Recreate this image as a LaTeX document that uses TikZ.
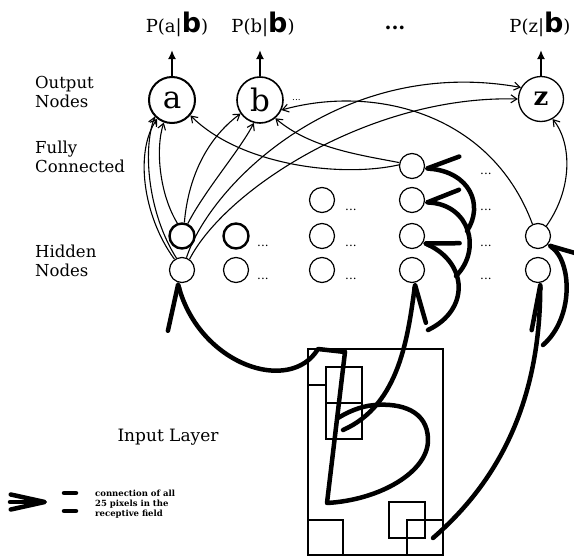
\documentclass[tikz,border=0pt]{standalone}
\usepackage{fontspec}
\setmainfont{DejaVu Serif}
\newfontfamily\bsans{DejaVu Sans}
\usetikzlibrary{arrows.meta}
\newcommand{\bigb}{{\bsans\bfseries\fontsize{27}{27}\selectfont b}}
\begin{document}
\begin{tikzpicture}[x=1pt,y=-1pt,
  every node/.style={inner sep=0pt},
  outnode/.style={circle,draw,minimum size=46pt,line width=1.6pt,font=\fontsize{31}{31}\selectfont},
  hid/.style={circle,draw,minimum size=25pt,line width=1.2pt},
  hidthick/.style={hid,line width=2.4pt},
  lbl/.style={align=left,anchor=west,font=\fontsize{16.5}{19.5}\selectfont},
  plbl/.style={anchor=base,font=\fontsize{18}{18}\selectfont},
  dotsl/.style={anchor=base west,font=\fontsize{12}{12}\selectfont},
  conn/.style={line width=1.1pt,-{Straight Barb[length=6pt,width=8pt]}},
  outarr/.style={line width=2.6pt,-{Latex[length=9pt,width=8pt]}},
  stroke/.style={line width=4.5pt,line cap=round,line join=round},
  fatL/.style 2 args={stroke,-{Straight Barb[left,length=#1,width=#2,round]}},
  fatR/.style 2 args={stroke,-{Straight Barb[right,length=#1,width=#2,round]}},
  box/.style={line width=1.3pt}
]
\useasboundingbox (0,0) rectangle (574,557);

% output nodes
\node[outnode,line width=2pt] (a) at (172,100) {a};
\node[outnode] (b) at (260,100) {b};
\node[outnode,minimum size=45pt,line width=1.3pt,font=\bfseries\fontsize{26}{26}\selectfont] (z) at (541,99) {z};
\node[font=\fontsize{9}{9}\selectfont,anchor=base west] (bdots) at (292,100) {...};

\coordinate (pa) at (172,50);
\coordinate (pb) at (260,50);
\coordinate (pz) at (541,50);
\draw[outarr] (a.north) -- (pa);
\draw[outarr] (b.north) -- (pb);
\draw[outarr] (z.north) -- (pz);

\node[plbl] (pla) at (177,32) {P(a|\bigb)};
\node[plbl] (plb) at (263,32) {P(b|\bigb)};
\node[anchor=base,font=\bfseries\fontsize{20}{20}\selectfont] (topdots) at (395,29) {...};
\node[plbl] (plz) at (540,32) {P(z|\bigb)};

% left labels
\node[lbl] (lout) at (35,92) {Output\\Nodes};
\node[lbl] (lfc) at (35,157) {Fully\\Connected};
\node[lbl] (lhid) at (35,261) {Hidden\\Nodes};
\node[font=\fontsize{17}{17}\selectfont] (linput) at (168,437) {Input Layer};

% hidden nodes
\node[hidthick] (h11) at (182,236) {};
\node[hid] (h12) at (182,270) {};
\node[hidthick] (h21) at (236,236) {};
\node[hid] (h22) at (236,270) {};
\node[hid] (h30) at (322,200) {};
\node[hid] (h31) at (322,236) {};
\node[hid] (h32) at (322,270) {};
\node[hid] (h4a) at (412,166) {};
\node[hid] (h40) at (412,200) {};
\node[hid] (h41) at (412,236) {};
\node[hid] (h42) at (412,270) {};
\node[hid] (h51) at (538,236) {};
\node[hid] (h52) at (538,270) {};

\node[dotsl] (d21) at (257,246) {...};
\node[dotsl] (d22) at (257,279) {...};
\node[dotsl] (d30) at (345,210) {...};
\node[dotsl] (d31) at (345,246) {...};
\node[dotsl] (d32) at (345,279) {...};
\node[dotsl] (d4a) at (480,174) {...};
\node[dotsl] (d40) at (480,210) {...};
\node[dotsl] (d41) at (480,246) {...};
\node[dotsl] (d42) at (480,279) {...};

% fully connected (thin)
\draw[conn] (h12.125) .. controls (142,215) and (135,150) .. (a.232);
\draw[conn] (h12.115) .. controls (149,215) and (142,152) .. (a.224);
\draw[conn] (h11.110) .. controls (160,195) and (155,150) .. (a.250);
\draw[conn] (h11.80) .. controls (188,180) and (205,140) .. (b.215);
\draw[conn] (h11.65) .. controls (205,190) and (240,150) .. (b.255);
\draw[conn] (h12.70) .. controls (210,185) and (340,55) .. (z.150);
\draw[conn] (h12.55) .. controls (225,190) and (370,95) .. (z.180);
\draw[conn] (h4a.175) .. controls (340,178) and (240,165) .. (a.-40);
\draw[conn] (h4a.165) .. controls (360,155) and (310,148) .. (b.-50);
\draw[conn] (h51.115) .. controls (490,110) and (370,85) .. (b.-25);
\draw[conn] (h51.50) .. controls (575,185) and (570,140) .. (z.-60);

% input layer
\draw[box] (308,349) rectangle (443,555);
\draw[box] (326,367) rectangle (362,403);
\draw[box] (326,403) rectangle (362,439);
\draw[box] (308,385) -- (326,385);
\draw[box] (308,520) rectangle (343,555);
\draw[box] (389,502) rectangle (425,538);
\draw[box] (407,520) rectangle (443,555);

% the letter
\coordinate (btop) at (345,352);
\coordinate (bbot) at (327,503);
\coordinate (bend) at (338,418);
\draw[stroke] (btop) -- (bbot) .. controls (380,500) and (428,472) .. (428,440)
   .. controls (428,410) and (400,403) .. (375,405) .. controls (360,406) and (346,413) .. (bend);

% receptive field connections (thick)
\coordinate (tlc) at (318,349);
\coordinate (bin) at (343,430);
\coordinate (brc) at (433,538);
\coordinate (r1s) at (428,330);
\coordinate (r2s) at (456,276);
\coordinate (r3s) at (467,231);
\coordinate (r4s) at (543,345);
\draw[fatL={42pt}{44pt}] (btop) -- (tlc) .. controls (290,395) and (200,365) .. (h12.250);
\draw[fatR={36pt}{32pt}] (bin) .. controls (400,405) and (408,335) .. (h42.-75);
\draw[fatR={31pt}{29pt}] (r1s) .. controls (470,310) and (468,263) .. (h41.-30);
\draw[fatR={31pt}{29pt}] (r2s) .. controls (482,250) and (470,205) .. (h40.-10);
\draw[fatR={31pt}{29pt}] (r3s) .. controls (484,205) and (470,172) .. (h4a.-10);
\draw[fatL={45pt}{17pt}] (brc) .. controls (500,480) and (540,400) .. (h52.-80);
\draw[fatR={30pt}{22pt}] (r4s) .. controls (574,318) and (572,262) .. (h51.-40);

% legend
\coordinate (lg1) at (10,502);
\coordinate (lg2) at (47,502);
\draw[stroke,-{Straight Barb[length=34pt,width=15pt,round]}] (lg1) -- (lg2);
\coordinate (eq1a) at (64,493); \coordinate (eq1b) at (76,493);
\coordinate (eq2a) at (64,511); \coordinate (eq2b) at (76,511);
\draw[stroke] (eq1a) -- (eq1b);
\draw[stroke] (eq2a) -- (eq2b);
\node[anchor=north west,align=left,font=\bfseries\fontsize{8.5}{10}\selectfont] (legtext) at (95,490)
  {connection of all\\25 pixels in the\\receptive field};
\end{tikzpicture}
\end{document}
